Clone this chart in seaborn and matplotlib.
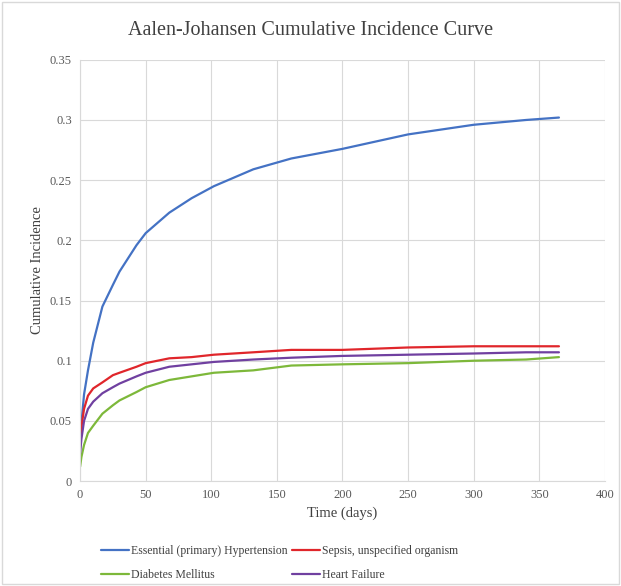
"""
Curva de incidencia acumulada (Aalen-Johansen) por diagnóstico
"""

import pandas as pd
import matplotlib.pyplot as plt
import seaborn as sns

# Valores
days = [0, 1, 3, 6, 10, 17, 25, 30, 43, 50, 68, 85, 102, 132, 161, 200, 250, 300, 340, 365]
hypertension = [0.033, 0.048, 0.072, 0.092, 0.115, 0.145, 0.163, 0.174, 0.196, 0.206, 0.223, 0.235,
                0.245, 0.259, 0.268, 0.276, 0.288, 0.296, 0.300, 0.302]
sepsis = [0.033, 0.045, 0.060, 0.071, 0.077, 0.082, 0.088, 0.090, 0.095, 0.098, 0.102, 0.103,
          0.105, 0.107, 0.109, 0.109, 0.111, 0.112, 0.112, 0.112]
diabetes = [0.012, 0.020, 0.030, 0.040, 0.046, 0.056, 0.063, 0.067, 0.074, 0.078, 0.084, 0.087,
            0.090, 0.092, 0.096, 0.097, 0.098, 0.100, 0.101, 0.103]
heart_failure = [0.023, 0.035, 0.050, 0.060, 0.066, 0.073, 0.078, 0.081, 0.087, 0.090, 0.095, 0.097,
                 0.099, 0.101, 0.1025, 0.104, 0.105, 0.106, 0.107, 0.107]

labels = ["Essential (primary) Hypertension", "Sepsis, unspecified organism",
          "Diabetes Mellitus", "Heart Failure"]
colors = ["#4472C4", "#E0262B", "#7DB83A", "#7040A0"]

df = pd.concat([
    pd.DataFrame({"Time (days)": days, "ci": vals, "group": name})
    for name, vals in zip(labels, [hypertension, sepsis, diabetes, heart_failure])
])

sns.set_theme(style="whitegrid")
plt.rcParams['font.family'] = ['Liberation Serif', 'DejaVu Serif']

fig = plt.figure(figsize=(6.21, 5.86), dpi=100)
ax = fig.add_axes([0.129, 0.179, 0.845, 0.719])

sns.lineplot(data=df, x="Time (days)", y="ci", hue="group", hue_order=labels,
             palette=colors, linewidth=1.6, ax=ax, legend=False)

ax.set_xlim(0, 400)
ax.set_ylim(0, 0.35)
ax.set_xticks(range(0, 401, 50))
ax.set_yticks([0, 0.05, 0.1, 0.15, 0.2, 0.25, 0.3, 0.35])
ax.set_yticklabels(["0", "0.05", "0.1", "0.15", "0.2", "0.25", "0.3", "0.35"])
ax.tick_params(labelsize=9, colors="#595959", length=0, pad=6)
ax.grid(True, color="#D9D9D9", linewidth=0.8)
for side in ["top", "right"]:
    ax.spines[side].set_visible(False)
for side in ["left", "bottom"]:
    ax.spines[side].set_color("#D9D9D9")
    ax.spines[side].set_linewidth(0.8)

ax.set_xlabel("Time (days)", fontsize=10.5, color="#404040", labelpad=4)
ax.set_ylabel("Cumulative Incidence", fontsize=10.5, color="#404040", labelpad=4)
fig.text(0.5, 0.948, "Aalen-Johansen Cumulative Incidence Curve", ha="center", va="center",
         fontsize=14.5, color="#404040")

# la leyenda se rellena por columnas: reordenar para que la primera fila sea azul / rojo
order = [0, 2, 1, 3]
handles = [plt.Line2D([], [], color=colors[i], linewidth=1.6) for i in order]
fig.legend(handles, [labels[i] for i in order], loc="center left", bbox_to_anchor=(0.145, 0.039),
           ncol=2, frameon=False, fontsize=8.5, handlelength=2.4, handletextpad=0.2,
           columnspacing=0.3, labelspacing=1.0, labelcolor="#404040")

fig.patches.append(plt.Rectangle((0.004, 0.004), 0.992, 0.992, transform=fig.transFigure,
                                 fill=False, edgecolor="#D9D9D9", linewidth=1))

fig.savefig("out.png", dpi=100)
